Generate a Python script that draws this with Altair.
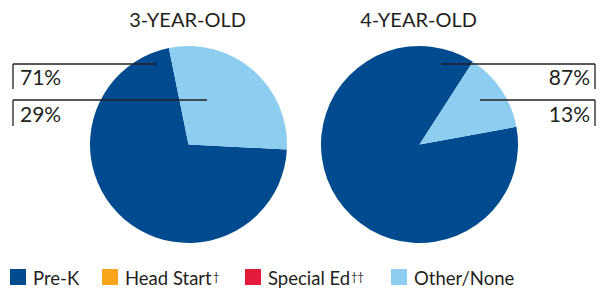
import math
import altair as alt
import pandas as pd

# ---- data ----
ages = ["3-YEAR-OLD", "4-YEAR-OLD"]
categories = ["Pre-K", "Head Start†", "Special Ed††", "Other/None"]
pre_k = [71, 87]
head_start = [0, 0]
special_ed = [0, 0]
other_none = [29, 13]
colors = ["#004A8F", "#F9A51B", "#E31B3B", "#8DCDEF"]

series = [pre_k, head_start, special_ed, other_none]
rows = []
for i, age in enumerate(ages):
    for j, cat in enumerate(categories):
        rows.append({"age": age, "category": cat, "value": series[j][i], "order": j})
df = pd.DataFrame(rows)

# ---- layout (page pixels; chart origin is at 8,8) ----
OFF = 8
R = 98.5
FONT = "Lato"
INK = "#231F20"
pies = {
    "3-YEAR-OLD": dict(cx=188.5, cy=144.5, start=92.9),
    "4-YEAR-OLD": dict(cx=419.5, cy=144.5, start=79.6),
}
callouts = {
    ("3-YEAR-OLD", "Pre-K"): dict(y=64, x1=13, x2=157, vx=13, vy2=89, tx=20, ty=85, align="left"),
    ("3-YEAR-OLD", "Other/None"): dict(y=100, x1=13, x2=207, vx=13, vy2=126, tx=20, ty=122, align="left"),
    ("4-YEAR-OLD", "Pre-K"): dict(y=64, x1=441, x2=595, vx=595, vy2=89, tx=590, ty=85, align="right"),
    ("4-YEAR-OLD", "Other/None"): dict(y=100, x1=480, x2=595, vx=595, vy2=126, tx=590, ty=122, align="right"),
}
legend_sym_x = [10, 102, 245, 391]      # left edge of each legend square
legend_dag_x = [0, 213, 351, 0]         # where the superscript dagger sits
LEG_SYM_Y = 277                         # square centre
LEG_TXT_Y = 285                         # label baseline

color_scale = alt.Scale(domain=categories, range=colors)
base = alt.Chart(df)

layers = []
for age, p in pies.items():
    start = math.radians(p["start"])
    arc = base.transform_filter(
        (alt.datum.age == age) & (alt.datum.value > 0)
    ).mark_arc(radius=R, stroke=None).encode(
        theta=alt.Theta("value:Q", stack=True,
                        scale=alt.Scale(range=[start, start + 2 * math.pi])),
        order=alt.Order("order:Q"),
        color=alt.Color("category:N", scale=color_scale, legend=None),
        x=alt.value(p["cx"] - OFF),
        y=alt.value(p["cy"] - OFF),
    )
    layers.append(arc)
    title = base.transform_filter(
        (alt.datum.age == age) & (alt.datum.order == 0)
    ).mark_text(font=FONT, fontSize=20, align="center", baseline="alphabetic", color=INK).encode(
        x=alt.value(p["cx"] - 1 - OFF), y=alt.value(27 - OFF), text="age:N"
    )
    layers.append(title)

for (age, cat), c in callouts.items():
    sel = base.transform_filter((alt.datum.age == age) & (alt.datum.category == cat))
    h = sel.mark_rule(color=INK, strokeWidth=1.3).encode(
        x=alt.value(c["x1"] - OFF), x2=alt.value(c["x2"] - OFF), y=alt.value(c["y"] - OFF)
    )
    v = sel.mark_rule(color=INK, strokeWidth=1.3).encode(
        x=alt.value(c["vx"] - OFF), y=alt.value(c["y"] - OFF), y2=alt.value(c["vy2"] - OFF)
    )
    t = sel.transform_calculate(label="datum.value + '%'").mark_text(
        font=FONT, fontSize=21, align=c["align"], baseline="alphabetic", color=INK
    ).encode(x=alt.value(c["tx"] - OFF), y=alt.value(c["ty"] - OFF), text="label:N")
    layers += [h, v, t]

# ---- legend built from the category list ----
leg = pd.DataFrame({
    "category": categories,
    "name": [c.rstrip("†") for c in categories],
    "dagger": [c[len(c.rstrip("†")):] for c in categories],
    "sx": [x + 8 - OFF for x in legend_sym_x],
    "tx": [x + 23 - OFF for x in legend_sym_x],
    "dx": [x - OFF for x in legend_dag_x],
})
lbase = alt.Chart(leg)
layers.append(lbase.mark_square(size=256, opacity=1, filled=True, strokeWidth=0).encode(
    x=alt.X("sx:Q", scale=None), y=alt.value(LEG_SYM_Y - OFF),
    color=alt.Color("category:N", scale=color_scale, legend=None),
))
layers.append(lbase.mark_text(font=FONT, fontSize=18.5, align="left", baseline="alphabetic", color=INK).encode(
    x=alt.X("tx:Q", scale=None), y=alt.value(LEG_TXT_Y - OFF), text="name:N",
))
layers.append(lbase.transform_filter("datum.dagger != ''").mark_text(
    font=FONT, fontSize=11, align="left", baseline="alphabetic", color=INK).encode(
    x=alt.X("dx:Q", scale=None), y=alt.value(281 - OFF), text="dagger:N",
))

chart = alt.layer(*layers).resolve_scale(theta="independent").properties(
    width=590, height=283, autosize=alt.AutoSizeParams(type="none"), padding=0,
    background="white",
).configure_view(stroke=None)

chart.save("out.html", embed_options={"renderer": "svg", "actions": False})
